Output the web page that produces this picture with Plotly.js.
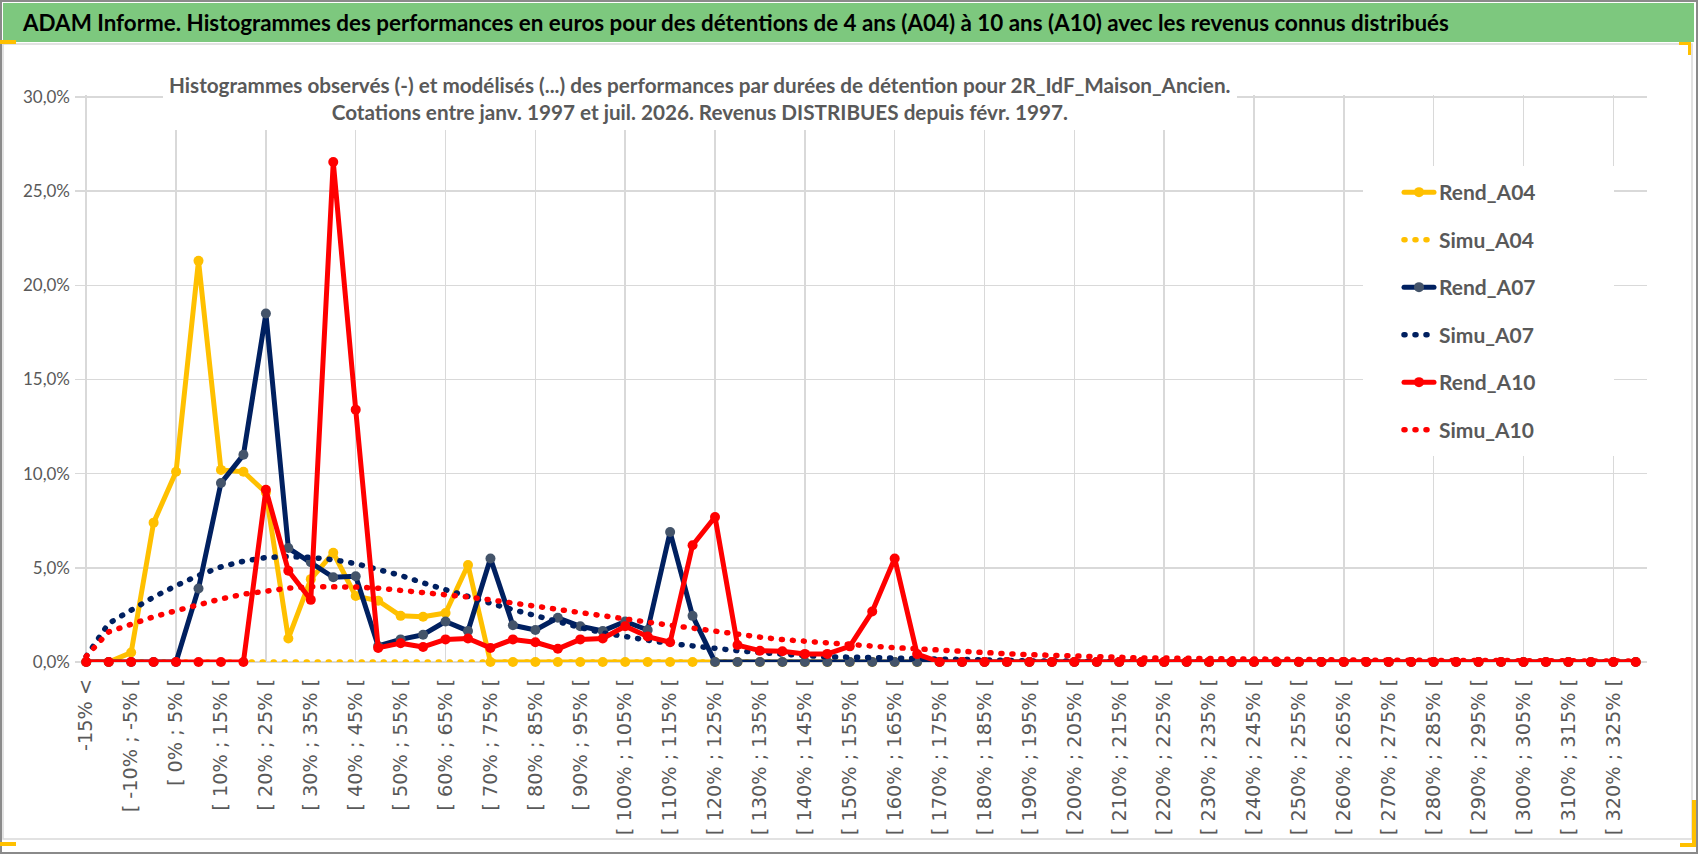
<!DOCTYPE html>
<html>
<head>
<meta charset="utf-8">
<script src="https://cdn.plot.ly/plotly-3.0.1.min.js"></script>
<style>
  body { margin: 0; background: #fff; }
  #chart .js-line { stroke-linecap: round; stroke-linejoin: round; }
</style>
</head>
<body>
<div id="chart"></div>
<script>
// classes de performance (5 %)
const categories = [
  "-15% <", "[ -15% ; -10% [", "[ -10% ; -5% [", "[ -5% ; 0% [", "[ 0% ; 5% [",
  "[ 5% ; 10% [", "[ 10% ; 15% [", "[ 15% ; 20% [", "[ 20% ; 25% [", "[ 25% ; 30% [",
  "[ 30% ; 35% [", "[ 35% ; 40% [", "[ 40% ; 45% [", "[ 45% ; 50% [", "[ 50% ; 55% [",
  "[ 55% ; 60% [", "[ 60% ; 65% [", "[ 65% ; 70% [", "[ 70% ; 75% [", "[ 75% ; 80% [",
  "[ 80% ; 85% [", "[ 85% ; 90% [", "[ 90% ; 95% [", "[ 95% ; 100% [", "[ 100% ; 105% [",
  "[ 105% ; 110% [", "[ 110% ; 115% [", "[ 115% ; 120% [", "[ 120% ; 125% [", "[ 125% ; 130% [",
  "[ 130% ; 135% [", "[ 135% ; 140% [", "[ 140% ; 145% [", "[ 145% ; 150% [", "[ 150% ; 155% [",
  "[ 155% ; 160% [", "[ 160% ; 165% [", "[ 165% ; 170% [", "[ 170% ; 175% [", "[ 175% ; 180% [",
  "[ 180% ; 185% [", "[ 185% ; 190% [", "[ 190% ; 195% [", "[ 195% ; 200% [", "[ 200% ; 205% [",
  "[ 205% ; 210% [", "[ 210% ; 215% [", "[ 215% ; 220% [", "[ 220% ; 225% [", "[ 225% ; 230% [",
  "[ 230% ; 235% [", "[ 235% ; 240% [", "[ 240% ; 245% [", "[ 245% ; 250% [", "[ 250% ; 255% [",
  "[ 255% ; 260% [", "[ 260% ; 265% [", "[ 265% ; 270% [", "[ 270% ; 275% [", "[ 275% ; 280% [",
  "[ 280% ; 285% [", "[ 285% ; 290% [", "[ 290% ; 295% [", "[ 295% ; 300% [", "[ 300% ; 305% [",
  "[ 305% ; 310% [", "[ 310% ; 315% [", "[ 315% ; 320% [", "[ 320% ; 325% [", "[ 325% ; 330% ["
]

// valeurs en %
const rendA04 = [
  0, 0, 0.5, 7.4, 10.1, 21.3, 10.2, 10.1, 9.0, 1.25,
  4.4, 5.8, 3.5, 3.25, 2.45, 2.4, 2.6, 5.15, 0, 0,
  0, 0, 0, 0, 0, 0, 0, 0, 0, 0,
  0, 0, 0, 0, 0, 0, 0, 0, 0, 0,
  0, 0, 0, 0, 0, 0, 0, 0, 0, 0,
  0, 0, 0, 0, 0, 0, 0, 0, 0, 0,
  0, 0, 0, 0, 0, 0, 0, 0, 0, 0
]
const simuA04 = [
  0, 0, 0, 0, 0, 0, 0, 0, 0, 0,
  0, 0, 0, 0, 0, 0, 0, 0, 0, 0,
  0, 0, 0, 0, 0, 0, 0, 0, 0, 0,
  0, 0, 0, 0, 0, 0, 0, 0, 0, 0,
  0, 0, 0, 0, 0, 0, 0, 0, 0, 0,
  0, 0, 0, 0, 0, 0, 0, 0, 0, 0,
  0, 0, 0, 0, 0, 0, 0, 0, 0, 0
]
const rendA07 = [
  0, 0, 0, 0, 0, 3.9, 9.5, 11.0, 18.5, 6.05,
  5.3, 4.5, 4.55, 0.85, 1.2, 1.45, 2.15, 1.65, 5.5, 1.95,
  1.7, 2.35, 1.9, 1.65, 2.15, 1.7, 6.9, 2.45, 0, 0,
  0, 0, 0, 0, 0, 0, 0, 0, 0, 0,
  0, 0, 0, 0, 0, 0, 0, 0, 0, 0,
  0, 0, 0, 0, 0, 0, 0, 0, 0, 0,
  0, 0, 0, 0, 0, 0, 0, 0, 0, 0
]
const simuA07 = [
  0.3, 2.05, 2.75, 3.45, 4.05, 4.6, 5.05, 5.35, 5.55, 5.6,
  5.55, 5.43, 5.22, 4.94, 4.6, 4.2, 3.82, 3.45, 3.12, 2.78,
  2.45, 2.13, 1.83, 1.55, 1.33, 1.16, 0.98, 0.84, 0.73, 0.6,
  0.5, 0.4, 0.34, 0.28, 0.25, 0.2, 0.18, 0.14, 0.12, 0.1,
  0.08, 0.07, 0.06, 0.05, 0.04, 0.04, 0.03, 0.03, 0.02, 0.02,
  0.02, 0.02, 0.01, 0.01, 0.01, 0.01, 0.01, 0.01, 0.01, 0.01,
  0.01, 0.01, 0.01, 0.01, 0.01, 0.01, 0.01, 0.01, 0.01, 0.01
]
const rendA10 = [
  0, 0, 0, 0, 0, 0, 0, 0, 9.15, 4.85,
  3.3, 26.55, 13.4, 0.75, 1.0, 0.8, 1.2, 1.25, 0.75, 1.2,
  1.05, 0.7, 1.2, 1.25, 1.9, 1.35, 1.05, 6.2, 7.7, 0.9,
  0.6, 0.57, 0.43, 0.43, 0.83, 2.68, 5.5, 0.42, 0, 0,
  0, 0, 0, 0, 0, 0, 0, 0, 0, 0,
  0, 0, 0, 0, 0, 0, 0, 0, 0, 0,
  0, 0, 0, 0, 0, 0, 0, 0, 0, 0
]
const simuA10 = [
  0.3, 1.6, 2.0, 2.4, 2.72, 3.05, 3.35, 3.6, 3.78, 3.92,
  4.0, 4.0, 3.98, 3.92, 3.82, 3.7, 3.58, 3.45, 3.3, 3.13,
  2.92, 2.74, 2.56, 2.4, 2.25, 2.1, 1.95, 1.8, 1.62, 1.45,
  1.32, 1.19, 1.09, 1.0, 0.9, 0.82, 0.76, 0.7, 0.62, 0.56,
  0.5, 0.44, 0.39, 0.34, 0.3, 0.27, 0.25, 0.22, 0.2, 0.19,
  0.17, 0.16, 0.15, 0.14, 0.13, 0.12, 0.11, 0.1, 0.1, 0.09,
  0.09, 0.08, 0.08, 0.07, 0.07, 0.06, 0.06, 0.06, 0.05, 0.05
]

const GOLD = '#FFC000'
const NAVY = '#002060'
const RED = '#FF0000'
const GREY = '#595959'
const GRID = '#D9D9D9'

const W = 1698, H = 854
// plot area; top is 2px above the 30% line so that its gridline is drawn
const L = 75, R = 1647, T = 95, B = 662
const Y30 = 97
const yMax = 30 * (B - T) / (B - Y30)
// pixel -> paper
const px2x = p => (p - L) / (R - L)
const py2y = p => (B - p) / (B - T)

function rend(name, y, color, markerColor, xa) {
  return {
    type: 'scatter', mode: 'lines+markers', name: name, legendgroup: name,
    x: categories, y: y, xaxis: xa, cliponaxis: false,
    line: { color: color, width: 5 },
    marker: { color: markerColor, size: 10 }
  }
}
function simu(name, y, color, xa) {
  return {
    type: 'scatter', mode: 'lines', name: name, legendgroup: name,
    x: categories, y: y, xaxis: xa, cliponaxis: false,
    line: { color: color, width: 5.5, dash: '1px,10px' }
  }
}

// the A10 series sit on the overlaid axis (which carries the vertical grid),
// so they are drawn on top as in the original
const data = [
  rend('Rend_A04', rendA04, GOLD, GOLD, 'x'),
  simu('Simu_A04', simuA04, GOLD, 'x'),
  rend('Rend_A07', rendA07, NAVY, '#44546A', 'x'),
  simu('Simu_A07', simuA07, NAVY, 'x'),
  rend('Rend_A10', rendA10, RED, RED, 'x2'),
  simu('Simu_A10', simuA10, RED, 'x2')
]

function rect(x0, y0, x1, y1, opts) {
  return Object.assign({
    type: 'rect', xref: 'paper', yref: 'paper',
    x0: px2x(x0), x1: px2x(x1), y0: py2y(y0), y1: py2y(y1),
    line: { width: 0 }
  }, opts)
}

const shapes = [
  rect(3, 3, 1694, 42, { fillcolor: '#7DC87E', layer: 'below' }),
  rect(3, 44, 1692, 839, { line: { color: GRID, width: 1.5 } }),
  rect(1, 1, 1697, 853, { line: { color: '#8A8A8A', width: 2 } }),
  // white boxes behind the subtitle and the legend (hide the grid there)
  rect(163, 58, 1237, 130, { fillcolor: '#fff', layer: 'above' }),
  rect(1363, 166, 1614, 456, { fillcolor: '#fff', layer: 'above' }),
  // poignées jaunes
  rect(0, 40, 16, 44, { fillcolor: GOLD }),
  rect(0, 842, 16, 846, { fillcolor: GOLD }),
  rect(1679, 42, 1691, 45, { fillcolor: GOLD }),
  rect(1688, 42, 1691, 55, { fillcolor: GOLD }),
  rect(1692, 800, 1696, 847, { fillcolor: GOLD }),
  rect(1680, 843, 1696, 847, { fillcolor: GOLD })
]

const annotations = [
  {
    xref: 'paper', yref: 'paper', x: px2x(20), y: py2y(22),
    xanchor: 'left', yanchor: 'middle', showarrow: false,
    text: 'ADAM Informe. Histogrammes des performances en euros pour des détentions de 4 ans (A04) à 10 ans (A10) avec les revenus connus distribués',
    font: { size: 22.4, color: '#000', weight: 'bold' }
  },
  {
    xref: 'paper', yref: 'paper', x: px2x(700), y: py2y(98),
    xanchor: 'center', yanchor: 'middle', showarrow: false, align: 'center',
    text: 'Histogrammes observés (-) et modélisés (...) des performances par durées de détention pour 2R_IdF_Maison_Ancien.<br>Cotations entre janv. 1997 et juil. 2026. Revenus DISTRIBUES depuis févr. 1997.',
    font: { size: 20.7, color: GREY, weight: 'bold' }
  }
]

const everyOther = categories.filter((c, i) => i % 2 === 0)
const everyFourth = categories.filter((c, i) => i % 4 === 0)

const layout = {
  width: W, height: H,
  margin: { l: L, r: W - R, t: T, b: H - B, pad: 0 },
  paper_bgcolor: '#fff', plot_bgcolor: '#fff',
  separators: ', ',
  font: { family: 'Lato, "Open Sans", sans-serif', color: GREY },
  showlegend: true,
  legend: {
    x: px2x(1399), y: py2y(172), xanchor: 'left', yanchor: 'top',
    bgcolor: 'rgba(0,0,0,0)', traceorder: 'grouped', tracegroupgap: 17.2,
    font: { size: 21, color: GREY, weight: 'bold' }
  },
  xaxis: {
    type: 'category', categoryorder: 'array', categoryarray: categories,
    range: [-0.5, categories.length - 0.5],
    tickmode: 'array', tickvals: everyOther, ticktext: everyOther,
    tickangle: -90, showgrid: false, zeroline: false, showline: false, ticks: '',
    ticklabelstandoff: 12,
    tickfont: { family: '"DejaVu Sans", sans-serif', size: 19.3, color: GREY }
  },
  xaxis2: {
    overlaying: 'x', anchor: 'y', side: 'bottom',
    type: 'category', categoryorder: 'array', categoryarray: categories,
    range: [-0.5, categories.length - 0.5],
    tickmode: 'array', tickvals: everyFourth,
    showgrid: true, gridcolor: GRID, gridwidth: 1.5,
    showticklabels: false, ticks: '', zeroline: false, showline: false
  },
  yaxis: {
    range: [0, yMax], tickmode: 'linear', tick0: 0, dtick: 5,
    tickformat: '.1f', ticksuffix: '%',
    gridcolor: GRID, gridwidth: 1.5,
    zeroline: true, zerolinecolor: GRID, zerolinewidth: 1.5,
    showline: false, ticks: '', ticklabelstandoff: 4,
    tickfont: { size: 17, color: GREY }
  },
  shapes: shapes,
  annotations: annotations
}

Plotly.newPlot('chart', data, layout, { displayModeBar: false, staticPlot: true })
</script>
</body>
</html>
